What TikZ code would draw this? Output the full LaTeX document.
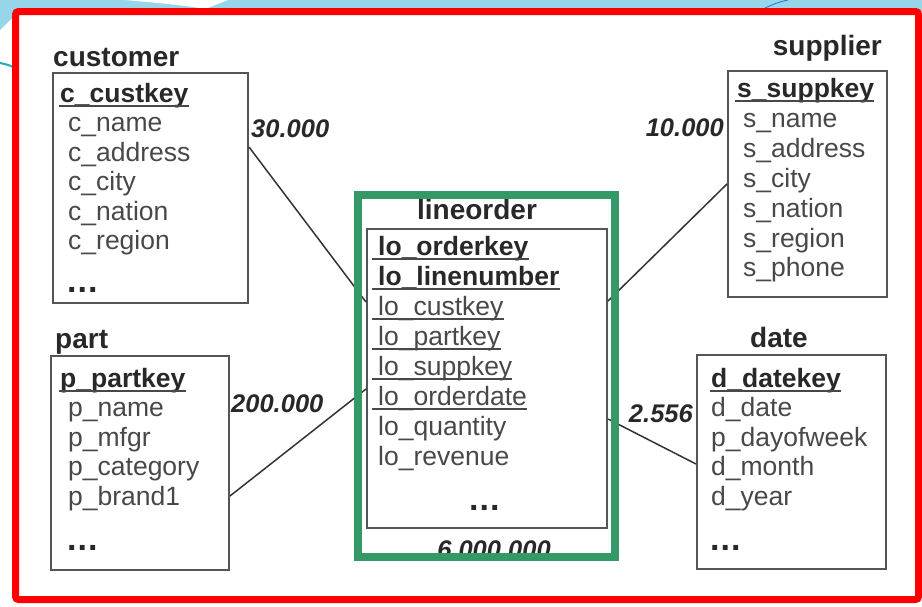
\documentclass[tikz,border=0pt]{standalone}
\usepackage{fontspec}
\setmainfont{Liberation Sans}
\usetikzlibrary{calc}

\definecolor{framered}{RGB}{255,0,0}
\definecolor{factgreen}{RGB}{52,153,102}
\definecolor{skyband}{RGB}{150,214,232}
\definecolor{swooshteal}{RGB}{40,170,190}
\definecolor{swooshblue}{RGB}{40,110,210}
\definecolor{boxline}{RGB}{85,85,85}
\definecolor{attrtext}{RGB}{72,72,72}
\definecolor{keytext}{RGB}{40,40,40}

% underline drawn just below the baseline of a named text node
\newcommand\keyline[2]{\draw[uline] ([xshift=-#2, yshift=-4pt]#1.base west) -- ([yshift=-4pt]#1.base east);}

\begin{document}
\begin{tikzpicture}[x=1pt,y=-1pt,
  tbl/.style={draw=boxline, line width=2pt, fill=white, inner sep=0pt},
  ttl/.style={inner sep=0pt, font=\fontsize{28}{30}\selectfont\bfseries, text=keytext},
  attr/.style={inner sep=0pt, anchor=base west, font=\fontsize{26.5}{30}\selectfont, text=attrtext},
  key/.style={attr, font=\fontsize{26.5}{30}\selectfont\bfseries, text=keytext},
  more/.style={attr, font=\fontsize{34}{30}\selectfont\bfseries, text=keytext},
  card/.style={inner sep=0pt, font=\fontsize{25.5}{30}\selectfont\bfseries\itshape, text=keytext},
  link/.style={draw=black!80, line width=1.5pt},
  uline/.style={draw=attrtext, line width=1.3pt},
]
% slide background
\fill[white] (0,0) rectangle (922,606);
\useasboundingbox (0,0) rectangle (922,606);
\fill[skyband] (0,0) rectangle (922,12);
\fill[skyband] (0,0) -- (0,30) .. controls (6,24) and (12,18) .. (17,14) -- (17,0) -- cycle;
\fill[white] (125,0) .. controls (160,3) and (190,6) .. (205,9) -- (228,0) -- cycle;
\draw[swooshblue, line width=0.8pt] (758,12) .. controls (768,6) and (778,2) .. (788,0);
\draw[swooshteal, line width=2pt] (0,63) .. controls (5,64) and (9,65) .. (13,67);

% outer red frame
\draw[framered, line width=7pt, rounded corners=3pt] (15.5,11.5) rectangle (918.5,599.5);

% table boxes
\node[tbl, minimum width=195pt, minimum height=230pt] (cust) at (150.5,188) {};
\node[tbl, minimum width=178pt, minimum height=214pt] (part) at (140,463) {};
\node[tbl, minimum width=240pt, minimum height=299pt] (lo) at (487,378.5) {};
\node[tbl, minimum width=159pt, minimum height=226pt] (supp) at (807.5,184) {};
\node[tbl, minimum width=189pt, minimum height=214pt] (date) at (791.5,462) {};

% table titles
\node[ttl, anchor=base west] (tcust) at (53,66) {customer};
\node[ttl, anchor=base west] (tpart) at (55,348) {part};
\node[ttl, anchor=base] (tlo) at (477,219) {lineorder};
\node[ttl, anchor=base east] (tsupp) at (882,55) {supplier};
\node[ttl, anchor=base west] (tdate) at (750,347) {date};

% customer
\node[key] (c0) at (60,102) {c\_custkey};
\node[attr] (c1) at (68,131.5) {c\_name};
\node[attr] (c2) at (68,161) {c\_address};
\node[attr] (c3) at (68,190.5) {c\_city};
\node[attr] (c4) at (68,220) {c\_nation};
\node[attr] (c5) at (68,249.5) {c\_region};
\node[more] (c6) at (67,292) {.\hspace{1pt}.\hspace{1pt}.};
\keyline{c0}{1pt}

% part
\node[key] (p0) at (60,387) {p\_partkey};
\node[attr] (p1) at (68,416.5) {p\_name};
\node[attr] (p2) at (68,446) {p\_mfgr};
\node[attr] (p3) at (68,475.5) {p\_category};
\node[attr] (p4) at (68,505) {p\_brand1};
\node[more] (p5) at (67,550) {.\hspace{1pt}.\hspace{1pt}.};
\keyline{p0}{1pt}

% lineorder
\node[key] (l0) at (378,255) {lo\_orderkey};
\node[key] (l1) at (378,285) {lo\_linenumber};
\node[attr] (l2) at (378,315) {lo\_custkey};
\node[attr] (l3) at (378,345) {lo\_partkey};
\node[attr] (l4) at (378,375) {lo\_suppkey};
\node[attr] (l5) at (378,405) {lo\_orderdate};
\node[attr] (l6) at (378,435) {lo\_quantity};
\node[attr] (l7) at (378,465) {lo\_revenue};
\node[more] (l8) at (469,510) {.\hspace{1pt}.\hspace{1pt}.};
\keyline{l0}{6pt}
\keyline{l1}{6pt}
\keyline{l2}{6pt}
\keyline{l3}{6pt}
\keyline{l4}{6pt}
\keyline{l5}{6pt}

% supplier
\node[key] (s0) at (737,97) {s\_suppkey};
\node[attr] (s1) at (743,127) {s\_name};
\node[attr] (s2) at (743,157) {s\_address};
\node[attr] (s3) at (743,187) {s\_city};
\node[attr] (s4) at (743,217) {s\_nation};
\node[attr] (s5) at (743,247) {s\_region};
\node[attr] (s6) at (743,276) {s\_phone};
\keyline{s0}{2pt}

% date
\node[key] (d0) at (711,387) {d\_datekey};
\node[attr] (d1) at (711,416.5) {d\_date};
\node[attr] (d2) at (711,446) {p\_dayofweek};
\node[attr] (d3) at (711,475.5) {d\_month};
\node[attr] (d4) at (711,505) {d\_year};
\node[more] (d5) at (710,550) {.\hspace{1pt}.\hspace{1pt}.};
\keyline{d0}{1pt}

% cardinalities
\node[card, anchor=base west] (n1) at (251,137) {30.000};
\node[card, anchor=base east] (n2) at (724,136) {10.000};
\node[card, anchor=base west] (n3) at (231,412) {200.000};
\node[card, anchor=base east] (n4) at (693,422) {2.556};
\node[card, anchor=base] (n5) at (494,558) {6.000.000};

% relationships
\draw[link] ([yshift=-75pt]cust.north east) -- ([yshift=-74pt]lo.north west);
\draw[link] ([yshift=-141pt]part.north east) -- ([yshift=-161pt]lo.north west);
\draw[link] ([yshift=-114pt]supp.north west) -- ([yshift=-73pt]lo.north east);
\draw[link] ([yshift=-110pt]date.north west) -- ([yshift=-191pt]lo.north east);

% highlight around the fact table
\node[draw=factgreen, line width=8pt, minimum width=257pt, minimum height=362.5pt, inner sep=0pt] (lofr) at (486.5,375.75) {};
\end{tikzpicture}
\end{document}
